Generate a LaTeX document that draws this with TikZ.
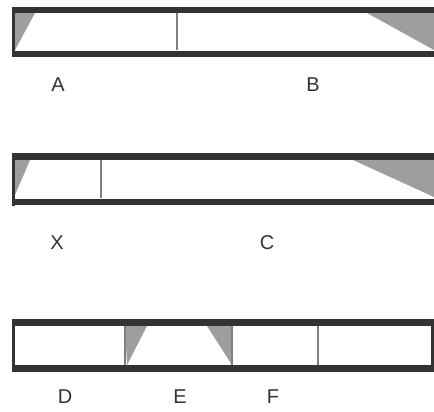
\documentclass[tikz,border=0pt]{standalone}
\usepackage{fontspec}
\setmainfont{Liberation Sans}
\usepackage{tikz}

\tikzset{
  rail/.style={line width=6.5pt, draw=black!80},
  endline/.style={line width=3pt, draw=black!80},
  divider/.style={line width=2pt, draw=black!50},
  wedge/.style={fill=black!38},
  label/.style={font=\fontsize{20}{22}\selectfont, text=black!80}
}

\begin{document}
\begin{tikzpicture}[x=1pt, y=-1pt]
    \useasboundingbox (0,0) rectangle (434,412);

    % Barra superior
    \fill[wedge] (15,13) -- (35,13) -- (15,50) -- cycle;
    \fill[wedge] (367,13) -- (434,13) -- (434,50) -- cycle;
    \draw[rail] (12,10) -- (434,10);
    \draw[rail] (12,54) -- (434,54);
    \draw[endline] (13.5,7) -- (13.5,57);
    \draw[divider] (177,13) -- (177,50);

    % Barra central
    \fill[wedge] (15,160) -- (30,160) -- (15,195) -- cycle;
    \fill[wedge] (353,160) -- (434,160) -- (434,197) -- cycle;
    \draw[rail] (12,156.5) -- (434,156.5);
    \draw[rail] (12,202) -- (434,202);
    \draw[endline] (13.5,153) -- (13.5,206);
    \draw[divider] (101,160) -- (101,198);

    % Barra inferior
    \fill[wedge] (125,326) -- (147,326) -- (127,365) -- cycle;
    \fill[wedge] (207,326) -- (232,326) -- (232,365) -- cycle;
    \draw[rail] (12,322.5) -- (434,322.5);
    \draw[rail] (12,368.5) -- (434,368.5);
    \draw[endline] (13.5,319) -- (13.5,372);
    \draw[endline] (432,319) -- (432,372);
    \draw[divider] (125,326) -- (125,365);
    \draw[divider] (232,326) -- (232,365);
    \draw[divider] (318,326) -- (318,365);

    % Etiquetas
    \node[label] (A) at (58,85) {A};
    \node[label] (B) at (313,85) {B};
    \node[label] (X) at (57,243) {X};
    \node[label] (C) at (267,243) {C};
    \node[label] (D) at (65,397) {D};
    \node[label] (E) at (180,397) {E};
    \node[label] (F) at (273,397) {F};
\end{tikzpicture}
\end{document}
